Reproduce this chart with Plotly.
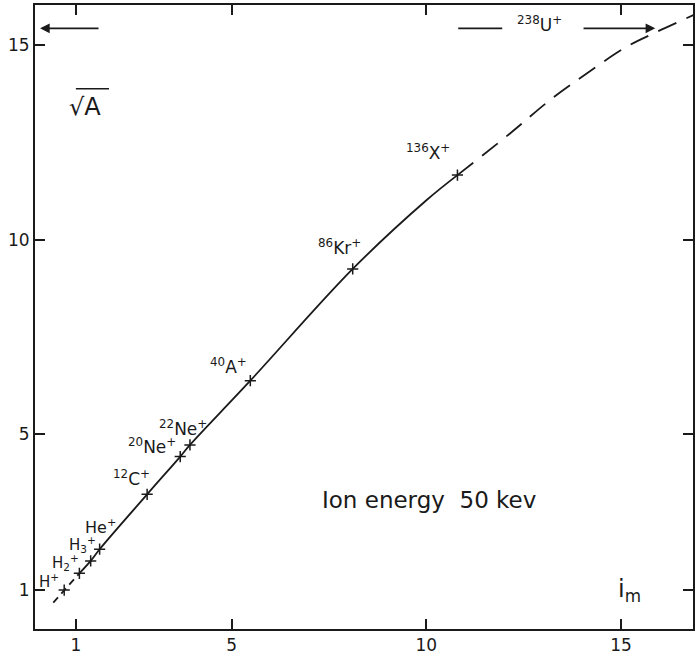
import plotly.graph_objects as go

# Measured points (i_m, sqrt(A))
ion_labels = ["H<sup>+</sup>", "H<sub>2</sub><sup>+</sup>", "H<sub>3</sub><sup>+</sup>", "He<sup>+</sup>",
              "<sup>12</sup>C<sup>+</sup>", "<sup>20</sup>Ne<sup>+</sup>", "<sup>22</sup>Ne<sup>+</sup>",
              "<sup>40</sup>A<sup>+</sup>", "<sup>86</sup>Kr<sup>+</sup>", "<sup>136</sup>X<sup>+</sup>"]
ion_x = [0.70, 1.09, 1.38, 1.61, 2.83, 3.68, 3.93, 5.48, 8.11, 10.80]
ion_y = [1.00, 1.43, 1.75, 2.05, 3.46, 4.43, 4.73, 6.38, 9.25, 11.66]
label_x = [0.30, 0.74, 1.18, 1.64, 2.42, 2.95, 3.75, 4.91, 7.78, 10.05]
label_y = [1.24, 1.70, 2.18, 2.64, 3.88, 4.70, 5.16, 6.76, 9.81, 12.25]
label_size = [15, 15, 15, 16, 17, 17, 17, 17, 17, 17]

# Curve segments
low_x = [0.42, 0.70, 1.09]
low_y = [0.68, 1.00, 1.43]
mid_x = [1.09, 1.38, 1.61, 2.83, 3.68, 3.93, 5.48, 8.11, 10.01, 10.80]
mid_y = [1.43, 1.75, 2.05, 3.46, 4.43, 4.73, 6.38, 9.25, 11.02, 11.66]
up_x = [10.80, 12.15, 13.18, 14.12, 15.15, 15.92, 16.86]
up_y = [11.66, 12.73, 13.59, 14.27, 14.96, 15.34, 15.77]

u_label = "<sup>238</sup>U<sup>+</sup>"
u_sqrtA = 15.43

tick_vals = [1, 5, 10, 15]
tick_text = ["1", "5", "10", "15"]

ink = "#1a1a1a"
font = "DejaVu Sans"

fig = go.Figure()
fig.add_trace(go.Scatter(x=low_x, y=low_y, mode="lines",
                         line=dict(color=ink, width=1.8, dash="7px,5px"), showlegend=False))
fig.add_trace(go.Scatter(x=mid_x, y=mid_y, mode="lines", line_shape="spline",
                         line=dict(color=ink, width=1.8), showlegend=False))
fig.add_trace(go.Scatter(x=up_x, y=up_y, mode="lines", line_shape="spline",
                         line=dict(color=ink, width=1.8, dash="20px,11px"), showlegend=False))
fig.add_trace(go.Scatter(x=ion_x, y=ion_y, mode="markers",
                         marker=dict(symbol="cross-thin", size=8, line=dict(color=ink, width=1.5)),
                         showlegend=False))

for t, lx, ly, fs in zip(ion_labels, label_x, label_y, label_size):
    fig.add_annotation(x=lx, y=ly, text=t, showarrow=False,
                       font=dict(family=font, size=fs, color=ink))

fig.add_annotation(x=12.92, y=15.55, text=u_label, showarrow=False,
                   font=dict(family=font, size=17, color=ink))

# arrows at the level of sqrt(238)
fig.add_annotation(x=0.08, y=u_sqrtA, ax=1.62, ay=u_sqrtA, xref="x", yref="y",
                   axref="x", ayref="y", text="", showarrow=True,
                   arrowhead=2, arrowsize=1.2, arrowwidth=1.6, arrowcolor=ink)
fig.add_annotation(x=15.88, y=u_sqrtA, ax=14.0, ay=u_sqrtA, xref="x", yref="y",
                   axref="x", ayref="y", text="", showarrow=True,
                   arrowhead=2, arrowsize=1.2, arrowwidth=1.6, arrowcolor=ink)
fig.add_shape(type="line", x0=10.82, x1=11.95, y0=u_sqrtA, y1=u_sqrtA,
              line=dict(color=ink, width=1.6))

fig.add_annotation(x=1.23, y=13.41, text="√A", showarrow=False,
                   font=dict(family=font, size=24, color=ink))
fig.add_shape(type="line", x0=1.0, x1=1.85, y0=13.88, y1=13.88,
              line=dict(color=ink, width=1.4))

fig.add_annotation(x=10.07, y=3.31, text="Ion energy  50 kev", showarrow=False,
                   font=dict(family=font, size=23, color=ink))
fig.add_annotation(x=15.23, y=1.0, text="i<sub>m</sub>", showarrow=False,
                   font=dict(family=font, size=24, color=ink))

axis_common = dict(showgrid=False, zeroline=False, showline=True, linewidth=2,
                   linecolor=ink, mirror="allticks", ticks="inside", ticklen=10,
                   tickwidth=2, tickcolor=ink, tickvals=tick_vals, ticktext=tick_text,
                   automargin=False,
                   tickfont=dict(family=font, size=17, color=ink))
fig.update_xaxes(range=[-0.05, 16.85], **axis_common)
fig.update_yaxes(range=[0, 16.03], **axis_common)

fig.update_layout(width=695, height=657, margin=dict(l=35, r=2, t=5, b=28),
                  plot_bgcolor="white", paper_bgcolor="white")

fig.write_html("out.html", config={"displayModeBar": False},
               post_script="document.body.style.margin='0px';document.body.style.overflow='hidden';")
